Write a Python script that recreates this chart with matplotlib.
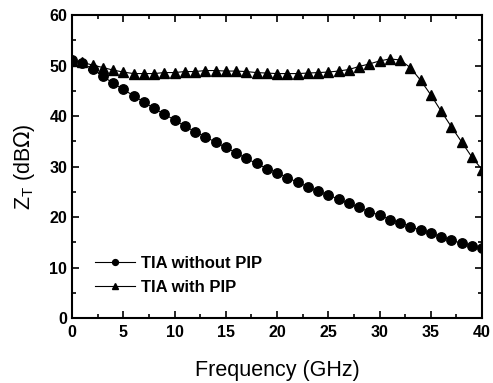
import matplotlib
matplotlib.use("Agg")
import matplotlib.pyplot as plt
from matplotlib.ticker import MultipleLocator

plt.rcParams['font.family'] = ['Liberation Sans', 'DejaVu Sans']

# Frequency points (GHz)
freq = list(range(0, 41))

# Z_T of the TIA without PIP (dBOhm)
zt_without = [51.0, 50.5, 49.3, 47.9, 46.5, 45.3, 44.0, 42.8, 41.5, 40.4,
              39.2, 38.0, 36.9, 35.9, 34.8, 33.8, 32.7, 31.6, 30.6, 29.6,
              28.8, 27.8, 26.9, 26.0, 25.1, 24.4, 23.5, 22.7, 21.9, 21.0,
              20.4, 19.5, 18.9, 18.1, 17.4, 16.8, 16.1, 15.4, 14.8, 14.3,
              13.8]

# Z_T of the TIA with PIP (dBOhm)
zt_with = [50.9, 50.6, 50.1, 49.6, 49.1, 48.7, 48.4, 48.4, 48.4, 48.6,
           48.6, 48.8, 48.8, 49.0, 49.0, 48.9, 48.9, 48.8, 48.6, 48.5,
           48.4, 48.4, 48.4, 48.5, 48.6, 48.7, 48.9, 49.2, 49.8, 50.3,
           50.9, 51.3, 51.1, 49.6, 47.1, 44.2, 41.0, 37.9, 34.9, 31.9,
           29.4]

W, H = 493, 383
fig = plt.figure(figsize=(W / 100, H / 100), dpi=100)
ax = fig.add_axes([72 / W, 1 - 318 / H, 410 / W, 303 / H])

ax.plot(freq, zt_without, color='black', lw=0.8, marker='o', ms=6.8,
        label='TIA without PIP')
ax.plot(freq, zt_with, color='black', lw=0.8, marker='^', ms=7.8,
        label='TIA with PIP')

ax.set_xlim(0, 40)
ax.set_ylim(0, 60)
ax.xaxis.set_major_locator(MultipleLocator(5))
ax.xaxis.set_minor_locator(MultipleLocator(2.5))
ax.yaxis.set_major_locator(MultipleLocator(10))
ax.yaxis.set_minor_locator(MultipleLocator(5))

ax.tick_params(which='both', direction='in', top=True, right=True, width=1.2)
ax.tick_params(which='major', length=5)
ax.tick_params(which='minor', length=3)
ax.tick_params(axis='x', pad=5)
ax.tick_params(axis='y', pad=3.5)
for lab in ax.get_xticklabels() + ax.get_yticklabels():
    lab.set_fontweight('bold')
    lab.set_fontsize(11.5)
for sp in ax.spines.values():
    sp.set_linewidth(1.5)

ax.set_xlabel('Frequency (GHz)', fontsize=15.5, va='center')
ax.set_ylabel(r'Z$_\mathregular{T}$ (dB$\Omega$)', fontsize=15.5, va='center')
ax.xaxis.set_label_coords(0.5, -0.172)
ax.yaxis.set_label_coords(-0.115, 0.5)

leg = ax.legend(loc='upper left', bbox_to_anchor=(0.035, 0.233), frameon=False,
                markerscale=0.62, handlelength=2.4, handletextpad=0.4,
                labelspacing=0.55, borderpad=0,
                prop={'weight': 'bold', 'size': 12})

fig.savefig('out.png', dpi=100)
